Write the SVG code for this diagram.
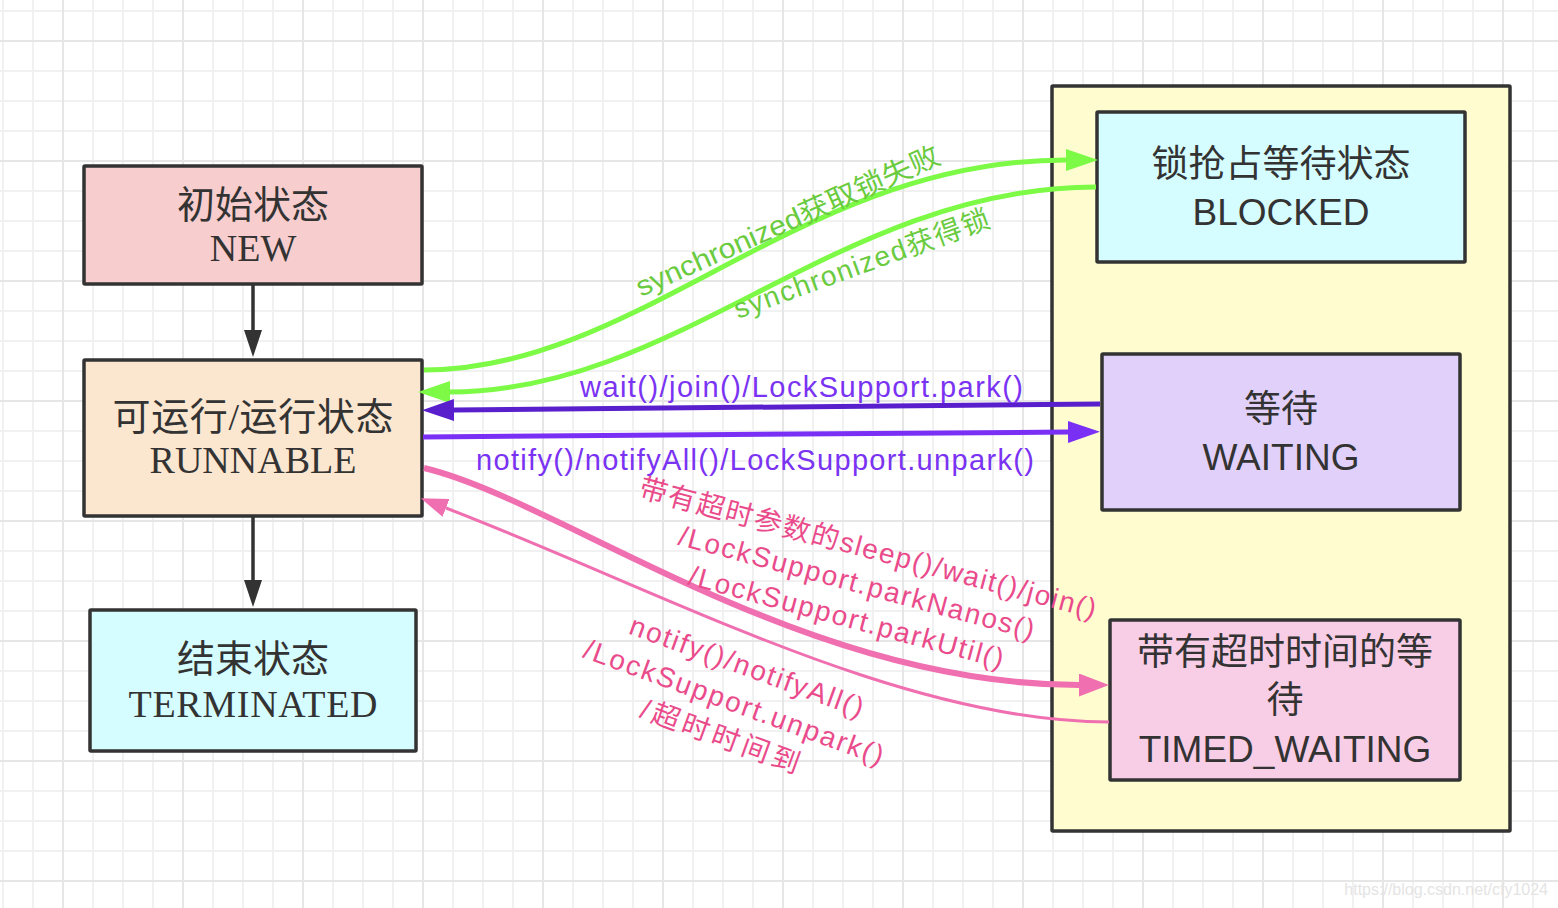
<svg xmlns="http://www.w3.org/2000/svg" width="1558" height="908" viewBox="0 0 1558 908">
<style>
.node{stroke:#333;stroke-width:3.5}
.serif{font-family:"Liberation Serif","Noto Sans CJK SC",serif;font-size:38px;fill:#333;text-anchor:middle}
.sans{font-family:"Liberation Sans","Noto Sans CJK SC",sans-serif;font-size:37px;fill:#333;text-anchor:middle}
.lbl{font-family:"Liberation Sans","Noto Sans CJK SC",sans-serif;font-size:28px}
.green{fill:#6acb3f}
.purple{fill:#7a33f2;font-size:29px}
.pink{fill:#ea4b8b;text-anchor:middle}
</style>
<defs>
<pattern id="gridMinor" width="30" height="30" patternUnits="userSpaceOnUse" x="-12" y="-4">
<path d="M15,0V30M0,15H30" stroke="#f1f1f1" stroke-width="2" fill="none"/>
</pattern>
<pattern id="gridMajor" width="120" height="120" patternUnits="userSpaceOnUse" x="3" y="-19">
<path d="M60,0V120M0,60H120" stroke="#e6e6e6" stroke-width="2" fill="none"/>
</pattern>
<marker id="arrBlack" markerUnits="userSpaceOnUse" markerWidth="28" markerHeight="18" refX="0" refY="9" orient="auto"><path d="M0,0L27,9L0,18z" fill="#333"/></marker>
<marker id="arrGreen" markerUnits="userSpaceOnUse" markerWidth="33" markerHeight="22" refX="0" refY="11" orient="auto"><path d="M0,0L32,11L0,22z" fill="#7dfa46"/></marker>
<marker id="arrPurpleD" markerUnits="userSpaceOnUse" markerWidth="33" markerHeight="22" refX="0" refY="11" orient="auto"><path d="M0,0L32,11L0,22z" fill="#5a1fcc"/></marker>
<marker id="arrPurple" markerUnits="userSpaceOnUse" markerWidth="33" markerHeight="22" refX="0" refY="11" orient="auto"><path d="M0,0L32,11L0,22z" fill="#7a2ff5"/></marker>
<marker id="arrPink" markerUnits="userSpaceOnUse" markerWidth="31" markerHeight="23" refX="0" refY="11.5" orient="auto"><path d="M0,0L30,11.5L0,23z" fill="#ef6fb0"/></marker>
<marker id="arrPinkS" markerUnits="userSpaceOnUse" markerWidth="28" markerHeight="19" refX="0" refY="9.5" orient="auto"><path d="M0,0L27,9.5L0,19z" fill="#ef6fb0"/></marker>
</defs>
<rect width="1558" height="908" fill="#fff"/>
<rect width="1558" height="908" fill="url(#gridMinor)"/>
<rect width="1558" height="908" fill="url(#gridMajor)"/>
<text x="1548" y="895" font-family="Liberation Sans, sans-serif" font-size="16" fill="#e4e4e4" text-anchor="end">https://blog.csdn.net/cfy1024</text>

<g id="container">
<rect x="1052" y="86" width="458" height="745" fill="#fffdd0" class="node" rx="1"/>
</g>

<g id="node-new">
<rect x="84" y="166" width="338" height="118" fill="#f7cdcd" class="node" rx="1"/>
<text class="serif" x="253" y="218">初始状态</text>
<text class="serif" x="253" y="261">NEW</text>
</g>
<g id="node-runnable">
<rect x="84" y="360" width="338" height="156" fill="#fbe6d0" class="node" rx="1"/>
<text class="serif" x="253" y="430" textLength="281" lengthAdjust="spacing">可运行/运行状态</text>
<text class="serif" x="253" y="473">RUNNABLE</text>
</g>
<g id="node-terminated">
<rect x="90" y="610" width="326" height="141" fill="#d5fdff" class="node" rx="1"/>
<text class="serif" x="253" y="672">结束状态</text>
<text class="serif" x="253" y="717" textLength="249" lengthAdjust="spacing">TERMINATED</text>
</g>
<g id="node-blocked">
<rect x="1097" y="112" width="368" height="150" fill="#d5fdff" class="node" rx="1"/>
<text class="sans" x="1281" y="177">锁抢占等待状态</text>
<text class="sans" x="1281" y="225">BLOCKED</text>
</g>
<g id="node-waiting">
<rect x="1102" y="354" width="358" height="156" fill="#e1d0f9" class="node" rx="1"/>
<text class="sans" x="1281" y="422">等待</text>
<text class="sans" x="1281" y="470">WAITING</text>
</g>
<g id="node-timed-waiting">
<rect x="1110" y="620" width="350" height="160" fill="#f8cde6" class="node" rx="1"/>
<text class="sans" x="1285" y="665">带有超时时间的等</text>
<text class="sans" x="1285" y="713">待</text>
<text class="sans" x="1285" y="762">TIMED_WAITING</text>
</g>

<g id="connectors" fill="none">
<path d="M253,285V330" stroke="#333" stroke-width="3.5" marker-end="url(#arrBlack)"/>
<path d="M253,516V580" stroke="#333" stroke-width="3.5" marker-end="url(#arrBlack)"/>
<path d="M424,370C640,370 800,160 1066,160" stroke="#7dfa46" stroke-width="5" marker-end="url(#arrGreen)"/>
<path d="M1096,187C840,187 680,392 450,392" stroke="#7dfa46" stroke-width="5" marker-end="url(#arrGreen)"/>
<path d="M1100,404L454,410" stroke="#5a1fcc" stroke-width="5" marker-end="url(#arrPurpleD)"/>
<path d="M423,437L1068,432" stroke="#7a2ff5" stroke-width="5" marker-end="url(#arrPurple)"/>
<path d="M424,468C560,500 800,685 1079,685" stroke="#ef6fb0" stroke-width="6" marker-end="url(#arrPink)"/>
<path d="M1109,722C900,722 660,590 446,508" stroke="#ef6fb0" stroke-width="3" marker-end="url(#arrPinkS)"/>
</g>

<g id="labels">
<text class="lbl green" transform="translate(641,297) rotate(-24)" textLength="330" lengthAdjust="spacingAndGlyphs">synchronized获取锁失败</text>
<text class="lbl green" transform="translate(738,319) rotate(-20)" textLength="270" lengthAdjust="spacing">synchronized获得锁</text>
<text class="lbl purple" x="580" y="397" textLength="443" lengthAdjust="spacing">wait()/join()/LockSupport.park()</text>
<text class="lbl purple" x="476" y="470" textLength="558" lengthAdjust="spacing">notify()/notifyAll()/LockSupport.unpark()</text>
<g transform="translate(868,548) rotate(15)">
<text class="lbl pink" x="0" y="10" textLength="472" lengthAdjust="spacing">带有超时参数的sleep()/wait()/join()</text>
<text class="lbl pink" x="-2" y="46" textLength="367" lengthAdjust="spacing">/LockSupport.parkNanos()</text>
<text class="lbl pink" x="-3" y="82" textLength="325" lengthAdjust="spacing">/LockSupport.parkUtil()</text>
</g>
<g transform="translate(747,666) rotate(20)">
<text class="lbl pink" x="0" y="10" textLength="247" lengthAdjust="spacing">notify()/notifyAll()</text>
<text class="lbl pink" x="0" y="48" textLength="317" lengthAdjust="spacing">/LockSupport.unpark()</text>
<text class="lbl pink" x="-1" y="85" textLength="167" lengthAdjust="spacing">/超时时间到</text>
</g>
</g>
</svg>
